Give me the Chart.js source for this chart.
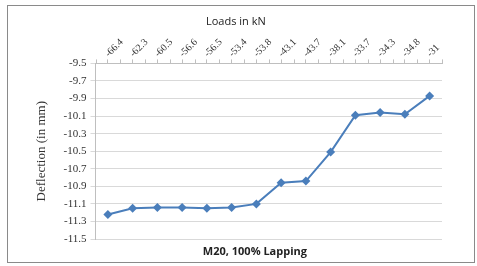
<!DOCTYPE html>
<html>
<head>
<meta charset="utf-8">
<script src="https://cdn.jsdelivr.net/npm/chart.js@4.4.0/dist/chart.umd.min.js"></script>
<style>
  body { margin: 0; background: #fff; }
  #wrap { position: absolute; left: 0; top: 0; width: 477px; height: 266px; }
  #frame { position: absolute; left: 7px; top: 5px; width: 466px; height: 256px; border: 1px solid #8a8a8a; }
</style>
</head>
<body>
<div id="wrap">
  <div id="frame"></div>
  <canvas id="deflectionChart" width="477" height="266"></canvas>
</div>
<script>
const loads = ['-66.4', '-62.3', '-60.5', '-56.6', '-56.5', '-53.4', '-53.8', '-43.1', '-43.7', '-38.1', '-33.7', '-34.3', '-34.8', '-31'];
const deflection = [-11.22, -11.15, -11.14, -11.14, -11.15, -11.14, -11.10, -10.86, -10.84, -10.51, -10.09, -10.06, -10.08, -9.87];
const xTitle = 'Loads in kN';
const seriesTitle = 'M20, 100% Lapping';

const ctx = document.getElementById('deflectionChart');
const blue = '#4a7ebb';

// labels read upwards from the axis (like Excel), tick marks between categories,
// and the two titles placed off-centre like the original
const excelText = {
    id: 'excelText',
    afterDraw(chart) {
        const scale = chart.scales.x;
        const ca = chart.chartArea;
        const c = chart.ctx;
        const axisY = scale.bottom;
        const step = scale.getPixelForTick(1) - scale.getPixelForTick(0);
        c.save();
        c.strokeStyle = '#bfbfbf';
        c.lineWidth = 1;
        for (let i = 0; i <= loads.length; i++) {
            const x = i < loads.length ? scale.getPixelForTick(i) - step / 2 : ca.right;
            c.beginPath();
            c.moveTo(Math.round(x) + 0.5, axisY - 4);
            c.lineTo(Math.round(x) + 0.5, axisY);
            c.stroke();
        }
        c.fillStyle = '#333';
        c.font = '10px "Liberation Serif"';
        c.textAlign = 'left';
        c.textBaseline = 'middle';
        loads.forEach((lab, i) => {
            const x = scale.getPixelForTick(i);
            c.save();
            c.translate(x - 1, axisY - 8);
            c.rotate(-Math.PI / 4);
            c.fillText(lab, 0, 0);
            c.restore();
        });

        c.fillStyle = '#222';
        c.textAlign = 'center';
        c.font = '11px "Open Sans"';
        c.fillText(xTitle, ca.left + (ca.right - ca.left) * 0.405, scale.top + 11);
        c.font = 'bold 11px "Open Sans"';
        c.fillText(seriesTitle, ca.left + (ca.right - ca.left) * 0.46, ca.bottom + 13);
        c.restore();
    }
};

const myChart = new Chart(ctx, {
    type: 'line',
    data: {
        labels: loads,
        datasets: [{
            label: seriesTitle,
            data: deflection,
            borderColor: blue,
            backgroundColor: blue,
            borderWidth: 2,
            pointStyle: 'rectRot',
            pointRadius: 4.5,
            pointBorderWidth: 0,
            tension: 0
        }]
    },
    options: {
        responsive: false,
        animation: false,
        layout: { padding: { left: 34, right: 35, top: 11, bottom: 27 } },
        plugins: {
            legend: { display: false },
            tooltip: { enabled: false }
        },
        scales: {
            x: {
                position: 'top',
                offset: true,
                grid: { display: true, drawOnChartArea: false, color: '#bfbfbf', tickLength: 4 },
                border: { color: '#bfbfbf' },
                ticks: {
                    color: 'rgba(0,0,0,0)',
                    minRotation: 45,
                    maxRotation: 45,
                    padding: 2,
                    font: { family: 'Liberation Serif', size: 10 }
                },
                title: {
                    display: true,
                    text: xTitle,
                    color: 'rgba(0,0,0,0)',
                    font: { family: 'Open Sans', size: 11 },
                    padding: { top: 0, bottom: 8 }
                }
            },
            y: {
                min: -11.5,
                max: -9.5,
                grid: { color: '#d9d9d9', tickLength: 5 },
                border: { color: '#bfbfbf' },
                ticks: {
                    stepSize: 0.2,
                    color: '#333',
                    padding: 4,
                    font: { family: 'Liberation Serif', size: 11 },
                    callback: function (v) { return v.toFixed(1); }
                },
                title: {
                    display: true,
                    text: 'Deflection (in mm)',
                    color: '#333',
                    font: { family: 'Liberation Serif', size: 13 },
                    padding: { top: 0, bottom: 10 }
                }
            }
        }
    },
    plugins: [excelText]
});
</script>
</body>
</html>
